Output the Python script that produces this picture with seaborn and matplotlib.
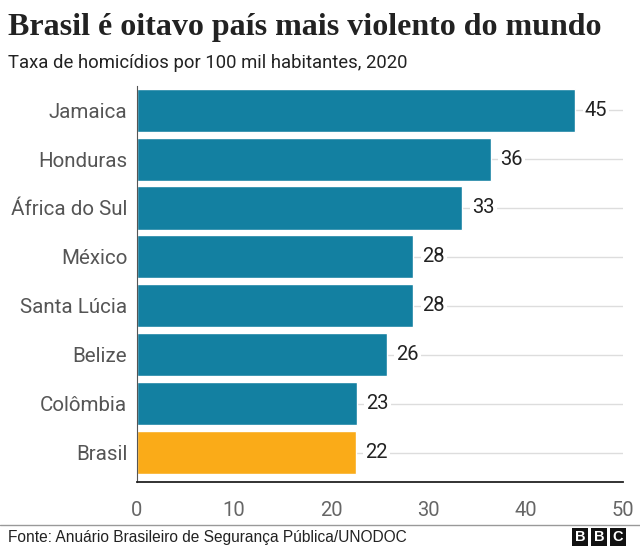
import matplotlib
matplotlib.use("Agg")
import matplotlib.pyplot as plt
import seaborn as sns
import pandas as pd
from matplotlib.patches import Rectangle

# Data
countries = ["Jamaica", "Honduras", "África do Sul", "México",
             "Santa Lúcia", "Belize", "Colômbia", "Brasil"]
rates = [45.1, 36.4, 33.5, 28.4, 28.4, 25.7, 22.6, 22.5]
labels = ["45", "36", "33", "28", "28", "26", "23", "22"]
xticks = [0, 10, 20, 30, 40, 50]

teal = "#1380A1"
orange = "#FAAB18"
colors = [orange if c == "Brasil" else teal for c in countries]

df = pd.DataFrame({"country": countries, "rate": rates})

sns.set_style("white")
plt.rcParams["font.family"] = ["Roboto", "DejaVu Sans"]

fig = plt.figure(figsize=(6.4, 5.49), dpi=100)
ax = fig.add_axes([0.214, 0.122, 0.759, 0.722])

# grid lines behind bars, at each category
for i in range(len(countries)):
    ax.axhline(i, color="#dddddd", lw=1, zorder=0)

sns.barplot(data=df, x="rate", y="country", hue="country", palette=colors,
            legend=False, width=0.88, saturation=1, ax=ax, zorder=2)

for i, (v, lab) in enumerate(zip(rates, labels)):
    ax.text(v + 1.0, i, lab, va="center", ha="left", fontsize=14.5, color="#222222",
            bbox=dict(facecolor="white", edgecolor="none", pad=1.5), zorder=3)

ax.set_xlim(0, 50)
ax.set_ylim(7.6, -0.5)
ax.set_xticks(xticks)
ax.set_xticklabels([str(t) for t in xticks])
ax.set_xlabel("")
ax.set_ylabel("")
ax.tick_params(axis="x", length=0, pad=14, labelsize=14.5, labelcolor="#666666")
ax.tick_params(axis="y", length=0, pad=7, labelsize=14.8, labelcolor="#555555")

for s in ["top", "right"]:
    ax.spines[s].set_visible(False)
ax.spines["left"].set_color("#555555")
ax.spines["left"].set_linewidth(0.8)
ax.spines["bottom"].set_color("#222222")
ax.spines["bottom"].set_linewidth(1.3)
ax.spines["bottom"].set_zorder(4)

fig.text(0.0125, 0.95, "Brasil é oitavo país mais violento do mundo",
         fontsize=23, fontweight="bold", family="Liberation Serif",
         color="#222222", va="center", ha="left")
fig.text(0.0125, 0.885, "Taxa de homicídios por 100 mil habitantes, 2020",
         fontsize=13.3, color="#222222", va="center", ha="left")

# footer
fig.add_artist(plt.Line2D([0, 1], [0.043, 0.043], color="#999999", lw=1,
                          transform=fig.transFigure))
fig.text(0.0125, 0.021, "Fonte: Anuário Brasileiro de Segurança Pública/UNODOC",
         fontsize=11.2, family="Liberation Sans", color="#222222",
         va="center", ha="left")

# BBC logo
bw, bh, gap = 16 / 640, 18 / 549, 3 / 640
x0, y0 = 572 / 640, 3 / 549
for k, ch in enumerate("BBC"):
    xx = x0 + k * (bw + gap)
    fig.add_artist(Rectangle((xx, y0), bw, bh, transform=fig.transFigure,
                             facecolor="#111111", edgecolor="none"))
    fig.text(xx + bw / 2, y0 + bh / 2, ch, color="white", fontsize=10.5,
             fontweight="bold", family="Liberation Sans", ha="center", va="center")

fig.savefig("out.png", dpi=100)
